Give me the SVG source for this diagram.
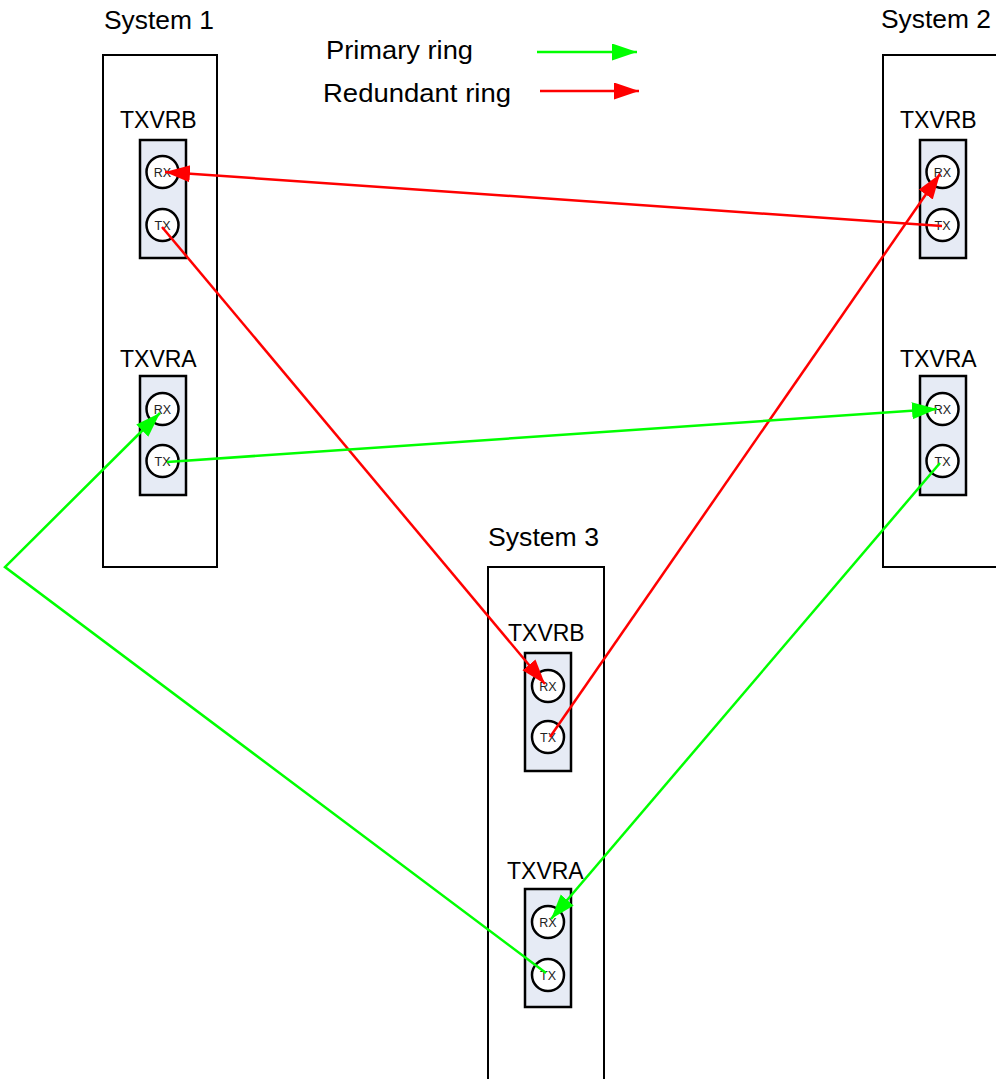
<svg xmlns="http://www.w3.org/2000/svg" width="996" height="1079" viewBox="0 0 996 1079">
<defs>
<marker id="ahR" markerUnits="userSpaceOnUse" markerWidth="26" markerHeight="18" refX="25" refY="8.5" orient="auto"><path d="M0,0 L25,8.5 L0,17 z" fill="#FF0000"/></marker>
<marker id="ahG" markerUnits="userSpaceOnUse" markerWidth="26" markerHeight="18" refX="25" refY="8.5" orient="auto"><path d="M0,0 L25,8.5 L0,17 z" fill="#00FF00"/></marker>
</defs>
<style>
.sys{fill:#FFFFFF;stroke:#000;stroke-width:2}
.mod{fill:#E6EBF5;stroke:#000;stroke-width:2.5}
.port{fill:#FFFFFF;stroke:#000;stroke-width:2.5}
.lbl{font-family:"Liberation Sans",Arial,sans-serif;font-size:23px;fill:#000}
.big{font-family:"Liberation Sans",Arial,sans-serif;font-size:25px;fill:#000}
.pt{font-family:"Liberation Sans",Arial,sans-serif;font-size:12.5px;fill:#222;text-anchor:middle}
.r{stroke:#FF0000;stroke-width:2.5;fill:none}
.g{stroke:#00FF00;stroke-width:2.5;fill:none}
</style>
<rect width="996" height="1079" fill="#FFFFFF"/>
<g id="legend">
<text class="big" x="326" y="59" textLength="147" lengthAdjust="spacingAndGlyphs">Primary ring</text>
<text class="big" x="323" y="102" textLength="188" lengthAdjust="spacingAndGlyphs">Redundant ring</text>
<line class="g" x1="537" y1="52" x2="637" y2="52" marker-end="url(#ahG)"/>
<line class="r" x1="540" y1="91" x2="639" y2="91" marker-end="url(#ahR)"/>
</g>
<g id="system1">
<text class="big" x="104" y="29" textLength="110" lengthAdjust="spacingAndGlyphs">System 1</text>
<rect class="sys" x="103" y="55" width="114" height="512"/>
</g>
<g id="system2">
<text class="big" x="881" y="28" textLength="110" lengthAdjust="spacingAndGlyphs">System 2</text>
<rect class="sys" x="883" y="55" width="130" height="512"/>
</g>
<g id="system3">
<text class="big" x="488" y="546" textLength="111" lengthAdjust="spacingAndGlyphs">System 3</text>
<rect class="sys" x="488" y="567" width="116" height="514"/>
</g>
<g id="s1-txvrb">
<text class="lbl" x="120" y="128">TXVRB</text>
<rect class="mod" x="140" y="140" width="46" height="118"/>
<circle class="port" cx="162.5" cy="172" r="16"/><text class="pt" x="162.5" y="176.5">RX</text>
<circle class="port" cx="162.5" cy="225" r="16"/><text class="pt" x="162.5" y="229.5">TX</text>
</g>
<g id="s1-txvra">
<text class="lbl" x="120" y="367">TXVRA</text>
<rect class="mod" x="140" y="376" width="46" height="119"/>
<circle class="port" cx="162.5" cy="409" r="16"/><text class="pt" x="162.5" y="413.5">RX</text>
<circle class="port" cx="162.5" cy="461" r="16"/><text class="pt" x="162.5" y="465.5">TX</text>
</g>
<g id="s2-txvrb">
<text class="lbl" x="900" y="128">TXVRB</text>
<rect class="mod" x="920" y="140" width="46" height="118"/>
<circle class="port" cx="942.5" cy="172" r="16"/><text class="pt" x="942.5" y="176.5">RX</text>
<circle class="port" cx="942.5" cy="225" r="16"/><text class="pt" x="942.5" y="229.5">TX</text>
</g>
<g id="s2-txvra">
<text class="lbl" x="900" y="367">TXVRA</text>
<rect class="mod" x="920" y="376" width="46" height="119"/>
<circle class="port" cx="942.5" cy="409" r="16"/><text class="pt" x="942.5" y="413.5">RX</text>
<circle class="port" cx="942.5" cy="461" r="16"/><text class="pt" x="942.5" y="465.5">TX</text>
</g>
<g id="s3-txvrb">
<text class="lbl" x="508" y="641">TXVRB</text>
<rect class="mod" x="525" y="653" width="46" height="118"/>
<circle class="port" cx="548" cy="686" r="16"/><text class="pt" x="548" y="690.5">RX</text>
<circle class="port" cx="548" cy="737" r="16"/><text class="pt" x="548" y="741.5">TX</text>
</g>
<g id="s3-txvra">
<text class="lbl" x="507" y="879">TXVRA</text>
<rect class="mod" x="525" y="889" width="46" height="118"/>
<circle class="port" cx="548" cy="922" r="16"/><text class="pt" x="548" y="926.5">RX</text>
<circle class="port" cx="548" cy="975" r="16"/><text class="pt" x="548" y="979.5">TX</text>
</g>
<g id="connectors">
<line class="r" x1="942" y1="226" x2="165" y2="172" marker-end="url(#ahR)"/>
<line class="r" x1="162" y1="227" x2="545" y2="684" marker-end="url(#ahR)"/>
<line class="r" x1="550" y1="737" x2="940" y2="174" marker-end="url(#ahR)"/>
<line class="g" x1="167" y1="462" x2="937" y2="409" marker-end="url(#ahG)"/>
<line class="g" x1="940" y1="463" x2="551" y2="919" marker-end="url(#ahG)"/>
<polyline class="g" points="546,973 5,567 160,413" marker-end="url(#ahG)"/>
</g>
</svg>
